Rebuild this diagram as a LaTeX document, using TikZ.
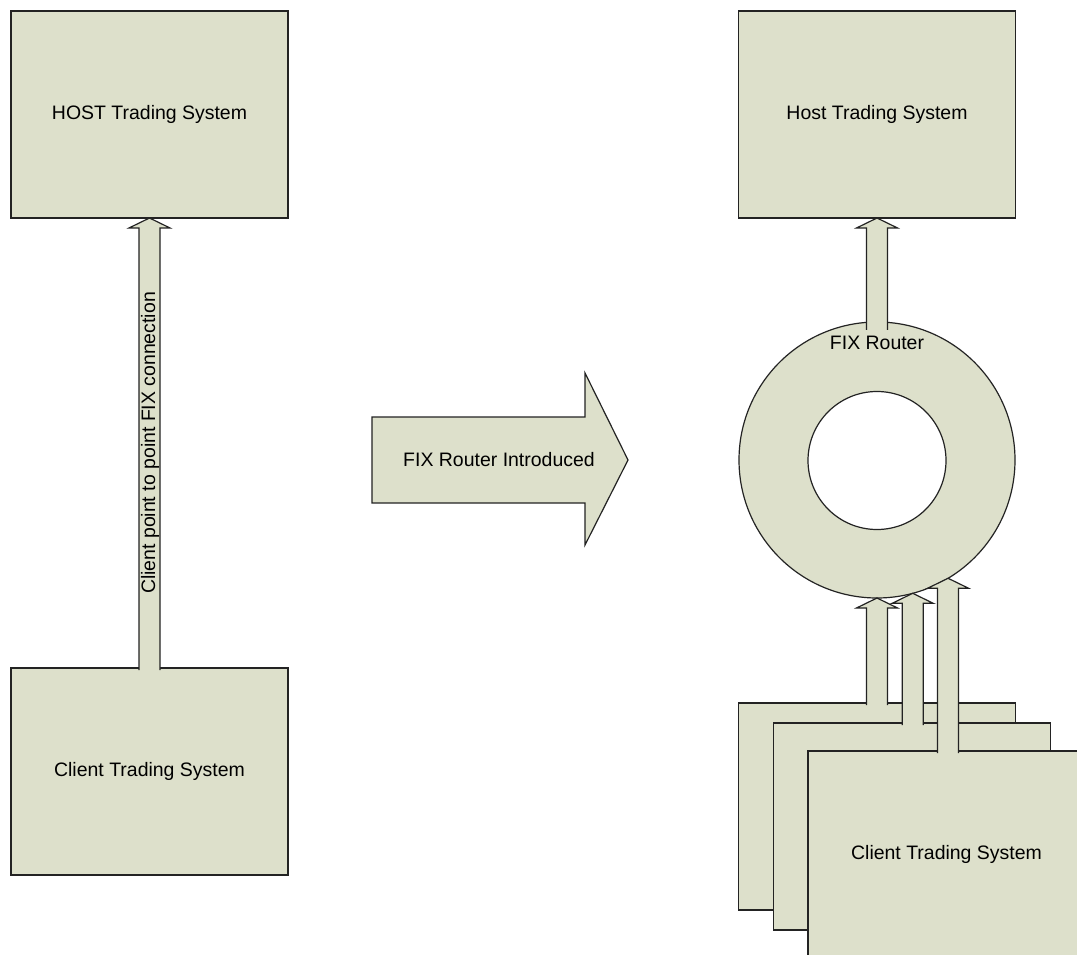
\documentclass[tikz,border=0pt]{standalone}
\usepackage{fontspec}
\setmainfont{Liberation Sans}
\usetikzlibrary{calc}
\definecolor{boxfill}{RGB}{221,224,203}
\definecolor{edgec}{RGB}{35,35,35}
\tikzset{
  edgeline/.style={draw=edgec, line width=0.9pt, line join=miter},
  sysbox/.style={edgeline, fill=boxfill, minimum width=207.75pt, minimum height=155.25pt, inner sep=0pt, outer sep=0pt},
  lbl/.style={font=\fontsize{14.6pt}{17pt}\selectfont, text=black, inner sep=1pt},
}
% block arrow from bottom point #1 (only its y is used) up to tip #2
\newcommand\blockup[2]{%
  \fill[boxfill] let \p1=(#1), \p2=(#2) in
    (\x2-7.875pt,\y1) -- (\x2-7.875pt,\y2-7.5pt) -- (\x2-15.375pt,\y2-7.5pt) -- (\x2,\y2)
    -- (\x2+15.375pt,\y2-7.5pt) -- (\x2+7.875pt,\y2-7.5pt) -- (\x2+7.875pt,\y1) -- cycle;
  \draw[edgeline] let \p1=(#1), \p2=(#2) in
    (\x2-7.875pt,\y1) -- (\x2-7.875pt,\y2-7.5pt) -- (\x2-15.375pt,\y2-7.5pt) -- (\x2,\y2)
    -- (\x2+15.375pt,\y2-7.5pt) -- (\x2+7.875pt,\y2-7.5pt) -- (\x2+7.875pt,\y1);
}
\begin{document}
\begin{tikzpicture}[x=0.75pt,y=-0.75pt]
\useasboundingbox (0,0) rectangle (1077,955);
\clip (0,0) rectangle (1077,955);
\fill[white] (0,0) rectangle (1077,955);

% left side
\node[sysbox] (lhost) at (149.5,114.5) {};
\node[sysbox] (lclient) at (149.5,771.5) {};
\blockup{$(lclient.north)+(0,2)$}{lhost.south}
\node[lbl] (lhosttxt) at (lhost.center) {HOST Trading System};
\node[lbl] (lclienttxt) at (lclient.center) {Client Trading System};
\node[lbl, rotate=90] (conn) at (150,443) {Client point to point FIX connection};

% big arrow
\coordinate (ba1) at (372,417);
\coordinate (ba2) at (585,417);
\coordinate (ba3) at (585,373);
\coordinate (ba4) at (628,460);
\coordinate (ba5) at (585,545);
\coordinate (ba6) at (585,503);
\coordinate (ba7) at (372,503);
\draw[edgeline, fill=boxfill] (ba1) -- (ba2) -- (ba3) -- (ba4) -- (ba5) -- (ba6) -- (ba7) -- cycle;
\node[lbl] (intro) at (499,460) {FIX Router Introduced};

% right side
\node[sysbox] (rhost) at (877,114.5) {};
\node[lbl] (rhosttxt) at (rhost.center) {Host Trading System};
\node[circle, edgeline, fill=boxfill, minimum size=207pt, inner sep=0pt, outer sep=0pt] (ring) at (877,460) {};
\node[circle, edgeline, fill=white, minimum size=103.5pt, inner sep=0pt, outer sep=0pt] (hole) at (877,460.5) {};
\blockup{$(ring.north)+(0,8)$}{rhost.south}
\node[lbl] (routertxt) at (877,343) {FIX Router};

\node[sysbox] (c1) at (877,806.5) {};
\blockup{$(c1.north)+(0,2)$}{ring.south}
\node[sysbox] (c2) at (912,826.5) {};
\blockup{$(c2.north)+(0,2)$}{ring.-75.1}
\node[sysbox] (c3) at (946.5,854.5) {};
\blockup{$(c3.north)+(0,2)$}{ring.-59.5}
\node[lbl] (c3txt) at (c3.center) {Client Trading System};
\end{tikzpicture}
\end{document}
